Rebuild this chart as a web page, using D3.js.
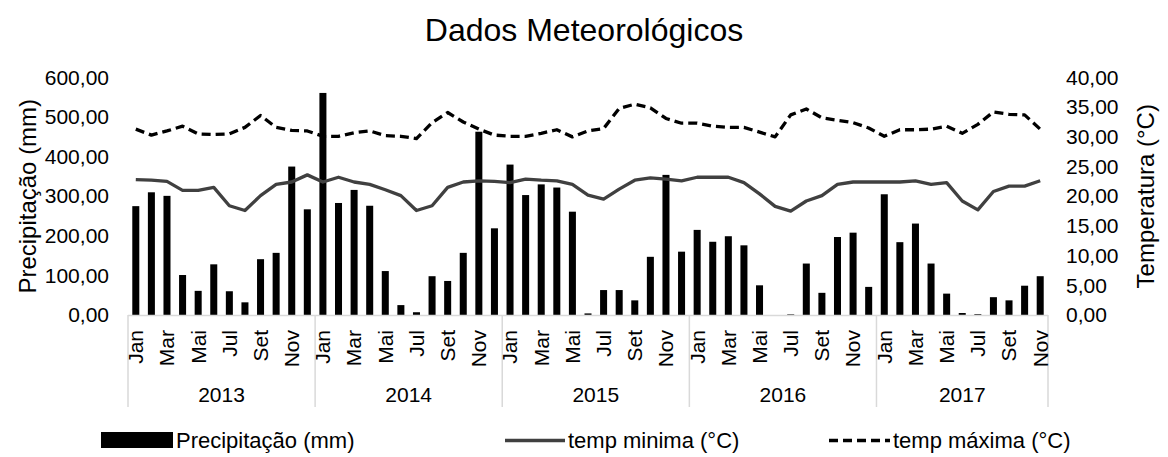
<!DOCTYPE html>
<html>
<head>
<meta charset="utf-8">
<script src="https://cdn.jsdelivr.net/npm/d3@7"></script>
<style>
  body { margin: 0; background: #fff; }
  svg { display: block; font-family: "Liberation Sans", Arial, sans-serif; }
</style>
</head>
<body>
<svg id="chart" width="1168" height="457"></svg>
<script>
// months shown on the axis (Excel skips every other label)
const monthNames = ["Jan", "Fev", "Mar", "Abr", "Mai", "Jun", "Jul", "Ago", "Set", "Out", "Nov", "Dez"];
const years = [2013, 2014, 2015, 2016, 2017];
const monthsPerYear = [12, 12, 12, 12, 11];

// precipitation (mm), Jan 2013 .. Nov 2017
const precip = [
  275, 310, 301, 101, 61, 128, 60, 32, 141, 157, 375, 267,
  561, 283, 316, 276, 111, 25, 7, 98, 86, 157, 463, 219,
  380, 303, 330, 322, 261, 4, 63, 63, 37, 147, 354, 160,
  215, 185, 199, 176, 75, 0, 1.5, 130, 56, 197, 208, 71,
  305, 184, 231, 130, 54, 5, 2, 45, 37, 74, 98
];

// temp minima (°C)
const tmin = [
  22.8, 22.7, 22.5, 21.0, 21.0, 21.5, 18.4, 17.6, 20.1, 22.0, 22.4, 23.6,
  22.4, 23.2, 22.4, 22.0, 21.1, 20.1, 17.6, 18.4, 21.5, 22.4, 22.6, 22.5,
  22.3, 22.9, 22.7, 22.6, 22.0, 20.2, 19.5, 21.2, 22.7, 23.1, 22.9, 22.6,
  23.2, 23.2, 23.2, 22.3, 20.4, 18.3, 17.5, 19.2, 20.1, 22.0, 22.4, 22.4,
  22.4, 22.4, 22.6, 22.0, 22.3, 19.2, 17.7, 20.8, 21.7, 21.7, 22.6
];

// temp maxima (°C)
const tmax = [
  31.3, 30.3, 31.0, 31.8, 30.5, 30.4, 30.5, 31.6, 33.6, 31.6, 31.1, 31.0,
  30.1, 30.1, 30.7, 31.0, 30.2, 30.1, 29.7, 32.4, 34.1, 32.5, 31.3, 30.3,
  30.1, 30.1, 30.6, 31.2, 30.0, 31.0, 31.4, 34.8, 35.5, 34.9, 33.1, 32.3,
  32.3, 31.8, 31.6, 31.6, 30.8, 30.0, 33.7, 34.7, 33.2, 32.8, 32.4, 31.5,
  30.1, 31.2, 31.2, 31.3, 31.8, 30.6, 32.1, 34.2, 33.8, 33.7, 31.3
];

const leftTicks = [0, 100, 200, 300, 400, 500, 600];
const rightTicks = [0, 5, 10, 15, 20, 25, 30, 35, 40];

// build the category list from years/months
const cats = [];
years.forEach((y, yi) => {
  for (let m = 0; m < monthsPerYear[yi]; m++) cats.push({ year: y, month: m, label: monthNames[m] });
});

const svg = d3.select("#chart");
const plotL = 128, plotR = 1048, plotT = 77.5, plotB = 315;

const x = d3.scaleBand().domain(d3.range(cats.length)).range([plotL, plotR]).padding(0);
const bw = x.bandwidth();
const cx = i => x(i) + bw / 2;

const yP = d3.scaleLinear().domain([0, 600]).range([plotB, plotT]);
const yT = d3.scaleLinear().domain([0, 40]).range([plotB, plotT]);

const fmt = d => d3.format(".2f")(d).replace(".", ",");

// title
svg.append("text")
  .attr("x", 584).attr("y", 41)
  .attr("text-anchor", "middle")
  .attr("font-size", 32)
  .text("Dados Meteorológicos");

// left axis
const gl = svg.append("g")
  .attr("transform", `translate(${plotL},0)`)
  .call(d3.axisLeft(yP).tickValues(leftTicks).tickFormat(fmt).tickSize(0).tickPadding(19));
gl.select(".domain").remove();
gl.selectAll("text").attr("font-size", 21).attr("font-family", "Liberation Sans, Arial, sans-serif").attr("fill", "#000");

// right axis
const gr = svg.append("g")
  .attr("transform", `translate(${plotR},0)`)
  .call(d3.axisRight(yT).tickValues(rightTicks).tickFormat(fmt).tickSize(0).tickPadding(18));
gr.select(".domain").remove();
gr.selectAll("text").attr("font-size", 21).attr("font-family", "Liberation Sans, Arial, sans-serif").attr("fill", "#000");

// axis titles
svg.append("text")
  .attr("transform", `translate(36,${(plotT + plotB) / 2}) rotate(-90)`)
  .attr("text-anchor", "middle")
  .attr("font-size", 24)
  .text("Precipitação (mm)");

svg.append("text")
  .attr("transform", `translate(1137,${(plotT + plotB) / 2}) rotate(-90)`)
  .attr("text-anchor", "middle")
  .attr("dy", "0.7em")
  .attr("font-size", 24)
  .text("Temperatura (°C)");

// bars
svg.append("g")
  .selectAll("rect")
  .data(precip)
  .join("rect")
  .attr("x", (d, i) => x(i) + bw * 0.275)
  .attr("width", bw * 0.45)
  .attr("y", d => yP(d))
  .attr("height", d => plotB - yP(d))
  .attr("fill", "#000");

// x axis line + year separators
svg.append("line")
  .attr("x1", plotL).attr("x2", plotR)
  .attr("y1", plotB + 0.5).attr("y2", plotB + 0.5)
  .attr("stroke", "#d9d9d9").attr("stroke-width", 1.5);

let start = 0;
const bounds = [0];
monthsPerYear.forEach(n => { start += n; bounds.push(start); });
svg.append("g")
  .selectAll("line")
  .data(bounds)
  .join("line")
  .attr("x1", d => d === cats.length ? plotR : x(d))
  .attr("x2", d => d === cats.length ? plotR : x(d))
  .attr("y1", plotB).attr("y2", 407)
  .attr("stroke", "#d9d9d9").attr("stroke-width", 1.5);

// month labels (every other one)
svg.append("g")
  .selectAll("text")
  .data(cats.map((c, i) => ({ ...c, i })).filter(c => c.month % 2 === 0))
  .join("text")
  .attr("transform", d => `translate(${cx(d.i)},330) rotate(-90)`)
  .attr("dy", "0.35em")
  .attr("text-anchor", "end")
  .attr("font-size", 21)
  .text(d => d.label);

// year labels
svg.append("g")
  .selectAll("text")
  .data(years.map((y, yi) => ({ y, a: bounds[yi], b: bounds[yi + 1] })))
  .join("text")
  .attr("x", d => (x(d.a) + (d.b === cats.length ? plotR : x(d.b))) / 2)
  .attr("y", 402)
  .attr("text-anchor", "middle")
  .attr("font-size", 21)
  .text(d => d.y);

// lines
const line = d3.line().x((d, i) => cx(i)).y(d => yT(d));

svg.append("path")
  .datum(tmin)
  .attr("d", line)
  .attr("fill", "none")
  .attr("stroke", "#404040")
  .attr("stroke-width", 3.3)
  .attr("stroke-linejoin", "round");

svg.append("path")
  .datum(tmax)
  .attr("d", line)
  .attr("fill", "none")
  .attr("stroke", "#000")
  .attr("stroke-width", 3.3)
  .attr("stroke-dasharray", "9,5")
  .attr("stroke-linejoin", "round");

// legend
const lg = svg.append("g").attr("font-size", 22);
lg.append("rect").attr("x", 101).attr("y", 432).attr("width", 72).attr("height", 16).attr("fill", "#000");
lg.append("text").attr("x", 176).attr("y", 448).text("Precipitação (mm)");
lg.append("line").attr("x1", 505).attr("x2", 565).attr("y1", 440.5).attr("y2", 440.5)
  .attr("stroke", "#404040").attr("stroke-width", 3.3);
lg.append("text").attr("x", 568).attr("y", 448).text("temp minima (°C)");
lg.append("line").attr("x1", 829).attr("x2", 890).attr("y1", 440.5).attr("y2", 440.5)
  .attr("stroke", "#000").attr("stroke-width", 3.3).attr("stroke-dasharray", "9,5");
lg.append("text").attr("x", 893).attr("y", 448).text("temp máxima (°C)");
</script>
</body>
</html>
